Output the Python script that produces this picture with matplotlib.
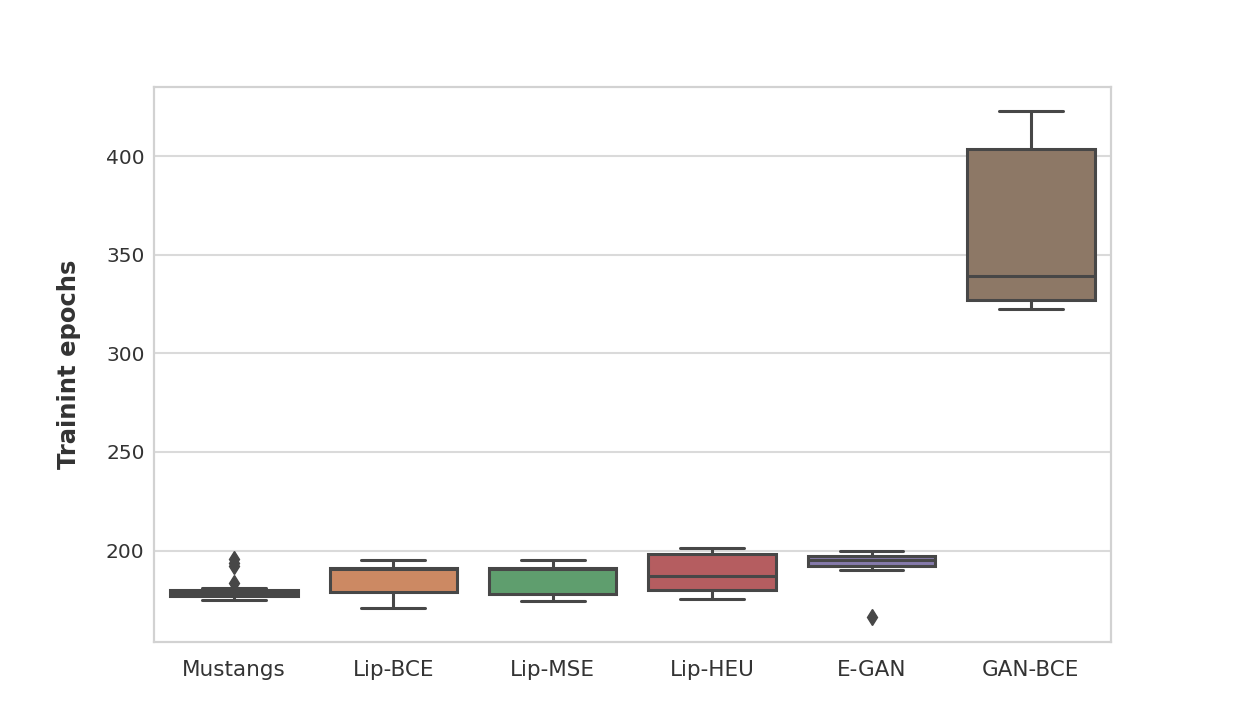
import matplotlib
matplotlib.use("Agg")
import matplotlib.pyplot as plt
import seaborn as sns

sns.set_style("whitegrid")

# Box statistics (training epochs)
methods = ["Mustangs", "Lip-BCE", "Lip-MSE", "Lip-HEU", "E-GAN", "GAN-BCE"]
whislo = [175.0, 171.0, 174.2, 175.4, 190.2, 322.5]
q1 = [177.0, 178.8, 177.8, 180.2, 192.4, 327.0]
med = [178.5, 190.5, 190.5, 187.3, 195.3, 339.2]
q3 = [179.8, 191.4, 191.4, 198.3, 197.5, 403.8]
whishi = [180.8, 195.0, 195.0, 201.2, 199.6, 423.1]
fliers = [[183.7, 192.2, 193.6, 195.5], [], [], [], [166.1], []]

colors = [sns.desaturate(c, 0.75) for c in sns.color_palette("deep", 6)]
line_gray = "#474747"
text_gray = "#333333"

stats = []
for i, name in enumerate(methods):
    stats.append({"label": name, "whislo": whislo[i], "q1": q1[i], "med": med[i],
                  "q3": q3[i], "whishi": whishi[i], "fliers": fliers[i]})

fig, ax = plt.subplots(figsize=(12.34, 7.21), dpi=100)
fig.subplots_adjust(left=0.125, right=0.9, top=0.88, bottom=0.11)

lw = 2.2
bp = ax.bxp(stats, positions=range(len(methods)), widths=0.8, patch_artist=True,
            boxprops=dict(edgecolor=line_gray, linewidth=lw),
            medianprops=dict(color=line_gray, linewidth=lw),
            whiskerprops=dict(color=line_gray, linewidth=lw),
            capprops=dict(color=line_gray, linewidth=lw),
            flierprops=dict(marker="d", markerfacecolor=line_gray,
                            markeredgecolor=line_gray, markersize=8))
for patch, c in zip(bp["boxes"], colors):
    patch.set_facecolor(c)

ax.set_xlim(-0.5, len(methods) - 0.5)
ax.set_ylim(153.8, 435.3)
ax.set_yticks([200, 250, 300, 350, 400])
ax.set_xticks(range(len(methods)))
ax.set_xticklabels(methods)
ax.tick_params(axis="y", labelsize=14.5, colors=text_gray)
ax.tick_params(axis="x", labelsize=15.5, colors=text_gray, pad=10)
ax.xaxis.grid(False)
ax.yaxis.grid(True, color="#dadada", linewidth=1.5)
for sp in ax.spines.values():
    sp.set_color("#d2d2d2")
    sp.set_linewidth(1.6)
ax.set_axisbelow(True)
ax.set_ylabel("Trainint epochs", fontsize=17.5, fontweight="bold", color=text_gray,
              labelpad=18)

plt.savefig("out.png", dpi=100)
